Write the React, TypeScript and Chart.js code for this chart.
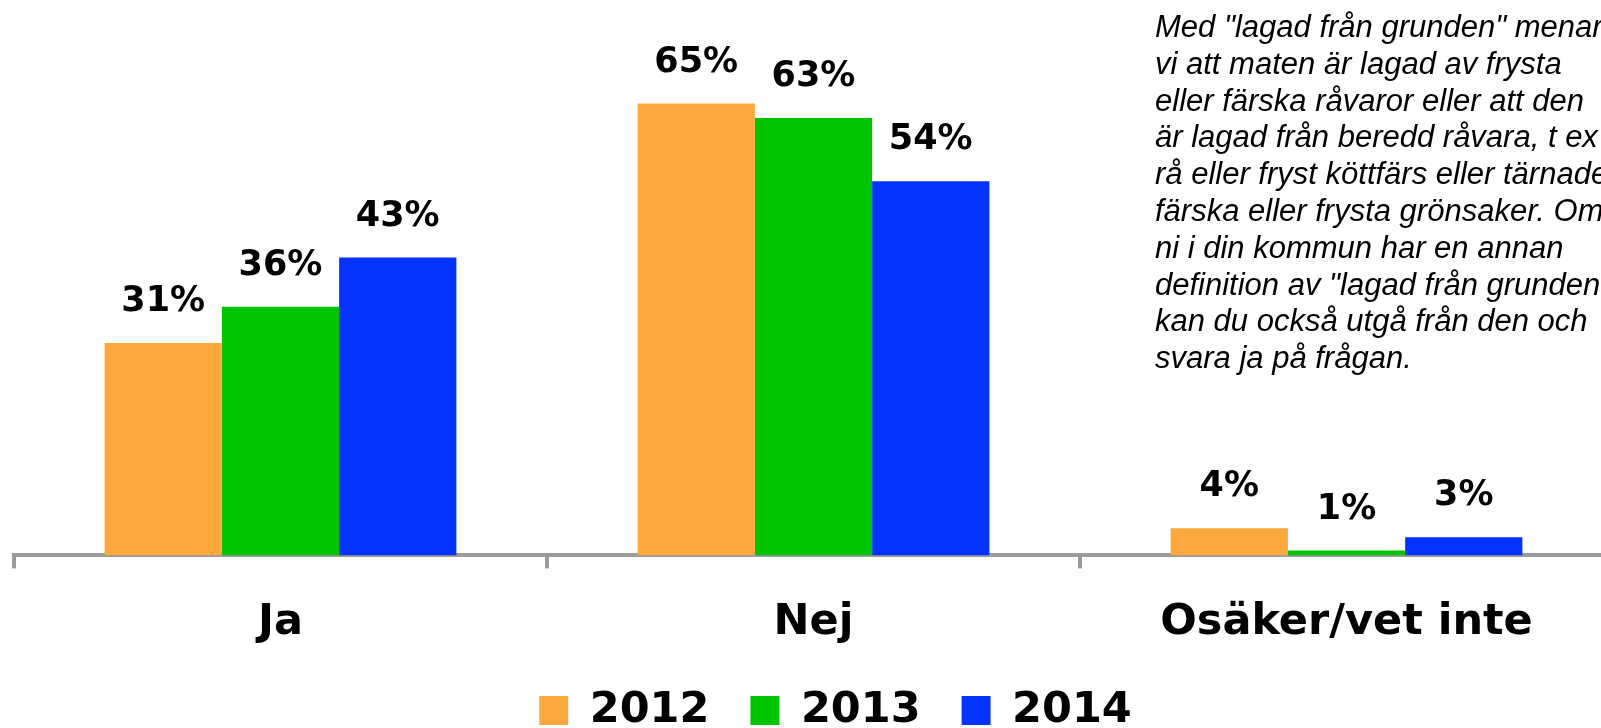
import React, { useEffect, useRef } from "react";
import { Chart, registerables } from "chart.js";

Chart.register(...registerables);

const categories = ["Ja", "Nej", "Osäker/vet inte"];
const years = ["2012", "2013", "2014"];
const values2012 = [30.6, 65.1, 3.9];
const values2013 = [35.8, 63.0, 0.7];
const values2014 = [42.9, 53.9, 2.6];
const colors = ["#FBA93D", "#00C400", "#0433FF"];
const noteLines = [
  'Med "lagad från grunden" menar',
  "vi att maten är lagad av frysta",
  "eller färska råvaror eller att den",
  "är lagad från beredd råvara, t ex",
  "rå eller fryst köttfärs eller tärnade",
  "färska eller frysta grönsaker. Om",
  "ni i din kommun har en annan",
  'definition av "lagad från grunden"',
  "kan du också utgå från den och",
  "svara ja på frågan.",
];

const FONT = '"DejaVu Sans", sans-serif';
const AXIS_COLOR = "#9b9b9b";

const valueLabels = {
  id: "valueLabels",
  afterDatasetsDraw(chart: any) {
    const ctx = chart.ctx;
    ctx.save();
    ctx.font = `bold 35px ${FONT}`;
    ctx.fillStyle = "#000";
    ctx.textAlign = "center";
    ctx.textBaseline = "middle";
    chart.data.datasets.forEach((ds: any, di: number) => {
      const meta = chart.getDatasetMeta(di);
      meta.data.forEach((el: any, i: number) => {
        const v = ds.data[i];
        ctx.fillText(`${Math.round(v)}%`, el.x, el.y - 41);
      });
    });
    ctx.restore();
  },
};

const legendShift = {
  id: "legendShift",
  afterLayout(chart: any) {
    if (chart.legend) {
      chart.legend.left += 22;
      chart.legend.right += 22;
    }
  },
};

export default function App() {
  const ref = useRef<HTMLCanvasElement | null>(null);
  useEffect(() => {
    if (!ref.current) return;
    const series = [values2012, values2013, values2014];
    const chart = new Chart(ref.current, {
      type: "bar",
      data: {
        labels: categories,
        datasets: years.map((y, i) => ({
          label: y,
          data: series[i],
          backgroundColor: colors[i],
          borderWidth: 0,
          categoryPercentage: 0.66,
          barPercentage: 1,
        })),
      },
      options: {
        animation: false,
        responsive: false,
        devicePixelRatio: 1,
        layout: { padding: { left: 14, right: 12, top: 0, bottom: 0 } },
        plugins: {
          tooltip: { enabled: false },
          legend: {
            position: "bottom",
            labels: {
              boxWidth: 29,
              boxHeight: 29,
              padding: 41,
              color: "#000",
              font: { family: FONT, size: 43, weight: "bold" },
            },
          },
        },
        scales: {
          x: {
            grid: {
              display: true,
              drawOnChartArea: false,
              drawTicks: true,
              tickLength: 13,
              lineWidth: 4,
              color: AXIS_COLOR,
              offset: true,
            },
            border: { display: true, color: AXIS_COLOR, width: 4 },
            ticks: {
              color: "#000",
              padding: 29,
              font: { family: FONT, size: 43, weight: "bold" },
              maxRotation: 0,
            },
            afterFit: (scale: any) => {
              scale.height -= 30;
            },
          },
          y: {
            display: false,
            min: 0,
            max: 80,
          },
        },
      },
      plugins: [valueLabels, legendShift],
    });
    return () => chart.destroy();
  }, []);

  return (
    <div
      style={{
        position: "fixed",
        left: 0,
        top: 0,
        width: 1601,
        height: 728,
        overflow: "hidden",
        background: "#fff",
      }}
    >
      <canvas ref={ref} width={1625} height={742} style={{ display: "block" }} />
      <div
        style={{
          position: "absolute",
          left: 1155,
          top: 9,
          font: 'italic 31px "Liberation Sans", Arial, sans-serif',
          lineHeight: "36.8px",
          whiteSpace: "pre",
          color: "#000",
        }}
      >
        {noteLines.join("\n")}
      </div>
    </div>
  );
}
